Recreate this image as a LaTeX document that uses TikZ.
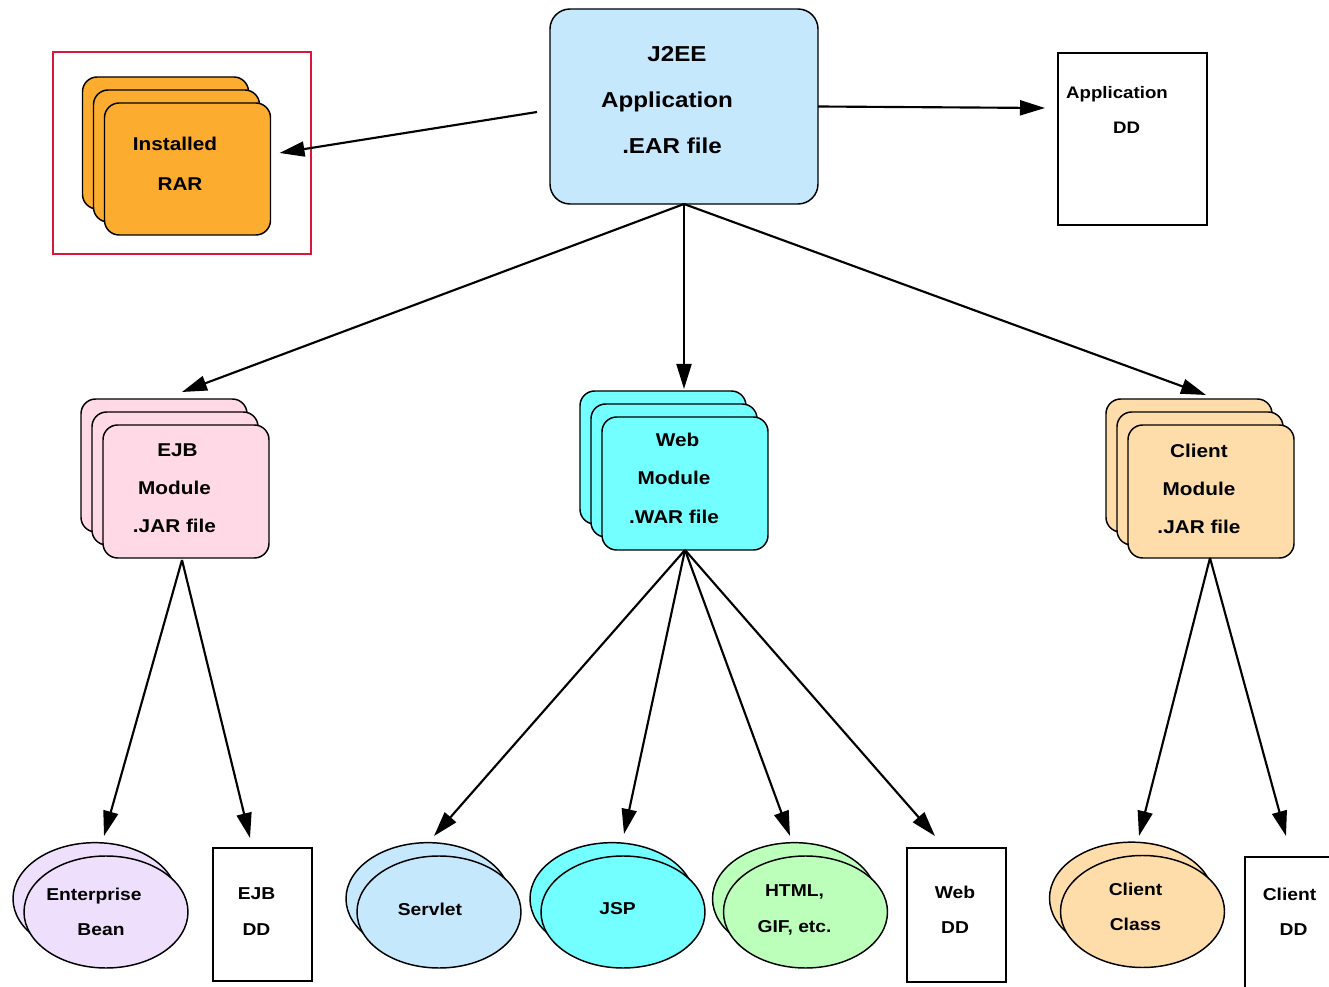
\documentclass[tikz,border=0pt]{standalone}
\usepackage{fontspec}
\setmainfont[FakeStretch=1.12]{Liberation Sans}
\usetikzlibrary{arrows.meta,shapes.geometric,shadows,calc}

\definecolor{framered}{RGB}{218,22,58}
\definecolor{rarorange}{RGB}{252,172,46}
\definecolor{earblue}{RGB}{197,232,252}
\definecolor{ejbpink}{RGB}{255,217,229}
\definecolor{webcyan}{RGB}{115,255,255}
\definecolor{peach}{RGB}{255,221,170}
\definecolor{lavender}{RGB}{238,224,252}
\definecolor{mint}{RGB}{187,255,187}

% horizontal nudge for a single centred line
\newcommand{\padL}[1]{\rule{#1}{0pt}}
\newcommand{\padR}[1]{\rule{#1}{0pt}}

\tikzset{
  base/.style={draw=black, line width=1.1pt, inner sep=0pt, outer sep=0pt},
  cardstack/.style={base, rectangle, rounded corners=11pt,
    minimum width=124.5pt, minimum height=99.75pt, fill=#1,
    copy shadow={shadow scale=1, shadow xshift=-16.5pt, shadow yshift=19.5pt,
      fill=#1, draw=black, line width=1.1pt},
    copy shadow={shadow scale=1, shadow xshift=-8.25pt, shadow yshift=9.75pt,
      fill=#1, draw=black, line width=1.1pt}},
  partpair/.style={base, ellipse, minimum width=123pt, minimum height=84pt, fill=#1,
    copy shadow={shadow scale=1, shadow xshift=-8.25pt, shadow yshift=10pt,
      fill=#1, draw=black, line width=1.1pt}},
  ddbox/.style={base, rectangle, fill=white},
  arr/.style={-{Triangle[length=18.75pt,width=11.25pt]}, line width=1.6pt},
  eartxt/.style={inner sep=0pt, align=center, font=\fontsize{16.2}{34.3}\selectfont\bfseries},
  modtxt/.style={inner sep=0pt, align=center, font=\fontsize{13.9}{28.7}\selectfont\bfseries},
  rartxt/.style={inner sep=0pt, align=center, font=\fontsize{13.9}{30}\selectfont\bfseries},
  apptxt/.style={inner sep=0pt, align=center, font=\fontsize{12.5}{25.9}\selectfont\bfseries},
  parttxt/.style={inner sep=0pt, align=center, font=\fontsize{12.9}{26.4}\selectfont\bfseries},
}

\begin{document}
\begin{tikzpicture}[x=0.75pt, y=-0.75pt]
  \clip (0,0) rectangle (1329,987);
  \fill[white] (0,0) rectangle (1329,987);

  % top level: the enterprise archive and its descriptor
  \node[base, rounded corners=15pt, fill=earblue, minimum width=201pt, minimum height=146.25pt]
    (ear) at (684,106.5) {};
  \node[eartxt] (ear-t) at (672,100) {\padL{7.5pt}J2EE\\Application\padR{7.5pt}\\.EAR file};

  \node[ddbox, minimum width=111.75pt, minimum height=129pt] (appdd) at (1132.5,139) {};
  \node[apptxt] (appdd-t) at (1122,109.7) {Application\padR{7.5pt}\\\padL{6.75pt}DD};

  % installed resource adapter, framed
  \node[draw=framered, line width=1.5pt, inner sep=0pt, minimum width=193.5pt, minimum height=151.5pt]
    (frame) at (182,153) {};
  \node[cardstack=rarorange, minimum height=99pt] (rar) at (187.5,169) {};
  \node[rartxt] (rar-t) at (177.5,164) {Installed\padR{3.75pt}\\\padL{3.75pt}RAR};

  % modules
  \node[cardstack=ejbpink] (ejb) at (186,491.5) {};
  \node[modtxt] (ejb-t) at (174.5,488) {\padL{4.5pt}EJB\\Module\\.JAR file};

  \node[cardstack=webcyan] (web) at (685,483.5) {};
  \node[modtxt] (web-t) at (674,478.3) {\padL{5.25pt}Web\\Module\\.WAR file};

  \node[cardstack=peach] (client) at (1211,491.5) {};
  \node[modtxt] (client-t) at (1199,488.7) {Client\\Module\\.JAR file};

  % module contents
  \node[partpair=lavender] (bean) at (106,912) {};
  \node[parttxt] (bean-t) at (97.5,911.5) {Enterprise\padR{5.25pt}\\\padL{5.25pt}Bean};

  \node[ddbox, minimum width=74.25pt, minimum height=99.75pt] (ejbdd) at (262.5,914.5) {};
  \node[parttxt] (ejbdd-t) at (256.5,911.5) {EJB\\DD};

  \node[partpair=earblue] (servlet) at (439,912) {};
  \node[parttxt] (servlet-t) at (430,909) {Servlet};

  \node[partpair=webcyan] (jsp) at (623,912) {};
  \node[parttxt] (jsp-t) at (617.5,909) {JSP};

  \node[partpair=mint] (html) at (805.5,912) {};
  \node[parttxt] (html-t) at (794.5,910) {HTML,\\GIF, etc.};

  \node[ddbox, minimum width=74.25pt, minimum height=100.5pt] (webdd) at (956.5,915) {};
  \node[parttxt] (webdd-t) at (955,909.5) {Web\\DD};

  \node[partpair=peach] (cclass) at (1142.5,911.5) {};
  \node[parttxt] (cclass-t) at (1135.5,907) {Client\\Class};

  \node[ddbox, minimum width=75pt, minimum height=114.75pt] (clientdd) at (1295,933.5) {};
  \node[parttxt] (clientdd-t) at (1291.5,911.5) {Client\padR{3pt}\\\padL{3pt}DD};

  % connectors
  \coordinate (ejb-out) at ($(ejb.south)+(-4,2)$);
  \coordinate (client-out) at ($(client.south)+(-1,0)$);

  \draw[arr] ($(ear.west)+(-13,5.5)$) -- ($(rar.east)+(9,-16)$);
  \draw[arr] (ear.east) -- ($(appdd.west)+(-13,-31)$);
  \draw[arr] (ear.south) -- ($(ejb.north)+(-4,-33)$);
  \draw[arr] (ear.south) -- ($(web.north)+(-1,-28)$);
  \draw[arr] (ear.south) -- ($(client.north)+(-5,-30)$);

  \draw[arr] (ejb-out) -- ($(bean.north)+(-2,-20)$);
  \draw[arr] (ejb-out) -- ($(ejbdd.north)+(-12.5,-10)$);

  \draw[arr] (web.south) -- ($(servlet.north)+(-5,-20)$);
  \draw[arr] (web.south) -- ($(jsp.north)+(1,-22)$);
  \draw[arr] (web.south) -- ($(html.north)+(-15.5,-20)$);
  \draw[arr] (web.south) -- ($(webdd.north)+(-21.5,-12)$);

  \draw[arr] (client-out) -- ($(cclass.north)+(-3.5,-19.5)$);
  \draw[arr] (client-out) -- ($(clientdd.north)+(-9,-21)$);
\end{tikzpicture}
\end{document}
